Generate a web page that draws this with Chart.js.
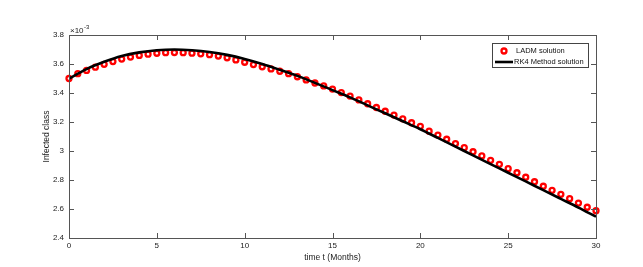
<!DOCTYPE html>
<html>
<head>
<meta charset="utf-8">
<script src="https://cdn.jsdelivr.net/npm/chart.js@4/dist/chart.umd.min.js"></script>
<style>
  html, body { margin: 0; padding: 0; background: #fff; }
  #wrap { width: 643px; height: 267px; }
</style>
</head>
<body>
<div id="wrap"><canvas id="chart" width="643" height="267"></canvas></div>
<script>
/* infected class, LADM vs RK4 */

const ladmT = [0, 0.5, 1, 1.5, 2, 2.5, 3, 3.5, 4, 4.5, 5, 5.5, 6, 6.5, 7, 7.5, 8, 8.5, 9, 9.5,
  10, 10.5, 11, 11.5, 12, 12.5, 13, 13.5, 14, 14.5, 15, 15.5, 16, 16.5, 17, 17.5, 18, 18.5, 19, 19.5,
  20, 20.5, 21, 21.5, 22, 22.5, 23, 23.5, 24, 24.5, 25, 25.5, 26, 26.5, 27, 27.5, 28, 28.5, 29, 29.5, 30];
const ladmValues = [3.500, 3.533, 3.556, 3.578, 3.598, 3.617, 3.634, 3.648, 3.659, 3.668,
  3.674, 3.678, 3.679, 3.678, 3.675, 3.670, 3.664, 3.655, 3.643, 3.628,
  3.612, 3.596, 3.581, 3.566, 3.550, 3.533, 3.512, 3.490, 3.469, 3.449,
  3.427, 3.403, 3.379, 3.352, 3.326, 3.300, 3.274, 3.248, 3.222, 3.195,
  3.170, 3.137, 3.110, 3.081, 3.051, 3.023, 2.995, 2.966, 2.936, 2.908,
  2.878, 2.850, 2.819, 2.788, 2.757, 2.729, 2.701, 2.671, 2.641, 2.612, 2.588];

const rk4T = [0, 1, 2, 3, 4, 5, 6, 7, 8, 9, 10, 11, 12, 13, 14, 15, 16, 17, 18, 19, 20,
  21, 22, 23, 24, 25, 26, 27, 28, 29, 30];
const rk4Values = [3.500, 3.565, 3.615, 3.655, 3.680, 3.695, 3.700, 3.695, 3.683, 3.663, 3.635,
  3.600, 3.560, 3.518, 3.470, 3.420, 3.370, 3.315, 3.260, 3.205, 3.150,
  3.090, 3.030, 2.970, 2.910, 2.850, 2.790, 2.730, 2.670, 2.610, 2.547];

const xTicks = [0, 5, 10, 15, 20, 25, 30];
const yTicks = [2.4, 2.6, 2.8, 3.0, 3.2, 3.4, 3.6, 3.8];
const legendLabels = ['LADM solution', 'RK4 Method solution'];

const FONT = "'Liberation Sans', Arial, sans-serif";
const AXIS = '#555555';

/* box + inward ticks, like the matlab axes */
const boxPlugin = {
  id: 'box',
  afterDatasetsDraw(chart) {
    const { ctx, chartArea: a, scales } = chart;
    ctx.save();
    ctx.strokeStyle = AXIS;
    ctx.lineWidth = 1;
    ctx.strokeRect(a.left + 0.5, a.top + 0.5, a.right - a.left, a.bottom - a.top);
    ctx.beginPath();
    xTicks.forEach(v => {
      const x = Math.round(scales.x.getPixelForValue(v)) + 0.5;
      ctx.moveTo(x, a.bottom); ctx.lineTo(x, a.bottom - 5);
      ctx.moveTo(x, a.top); ctx.lineTo(x, a.top + 5);
    });
    yTicks.forEach(v => {
      const y = Math.round(scales.y.getPixelForValue(v)) + 0.5;
      ctx.moveTo(a.left, y); ctx.lineTo(a.left + 5, y);
      ctx.moveTo(a.right, y); ctx.lineTo(a.right - 5, y);
    });
    ctx.stroke();

    /* exponent label */
    ctx.fillStyle = '#222';
    ctx.textBaseline = 'alphabetic';
    ctx.font = '8px ' + FONT;
    ctx.fillText('\u00d710', a.left + 1, a.top - 2);
    ctx.font = '6px ' + FONT;
    ctx.fillText('-3', a.left + 15, a.top - 6);

    /* legend */
    const lx = 492, ly = 43, lw = 96, lh = 24;
    ctx.fillStyle = '#fff';
    ctx.fillRect(lx, ly, lw, lh);
    ctx.strokeStyle = '#444';
    ctx.strokeRect(lx + 0.5, ly + 0.5, lw, lh);
    ctx.beginPath();
    ctx.arc(504, 51, 2.5, 0, Math.PI * 2);
    ctx.fillStyle = '#fff';
    ctx.fill();
    ctx.strokeStyle = '#ff0000';
    ctx.lineWidth = 2.3;
    ctx.stroke();
    ctx.beginPath();
    ctx.moveTo(495, 62); ctx.lineTo(513, 62);
    ctx.strokeStyle = '#000';
    ctx.lineWidth = 2.6;
    ctx.stroke();
    ctx.fillStyle = '#111';
    ctx.font = '7.5px ' + FONT;
    ctx.textBaseline = 'middle';
    ctx.fillText(legendLabels[0], 516, 51);
    ctx.fillText(legendLabels[1], 514, 62);
    ctx.restore();
  }
};

const ctx = document.getElementById('chart').getContext('2d');
new Chart(ctx, {
  type: 'scatter',
  data: {
    datasets: [
      {
        label: legendLabels[1],
        data: rk4T.map((t, i) => ({ x: t, y: rk4Values[i] })),
        showLine: true,
        borderColor: '#000',
        borderWidth: 2.6,
        pointRadius: 0,
        cubicInterpolationMode: 'monotone',
        order: 0,
      },
      {
        label: legendLabels[0],
        data: ladmT.map((t, i) => ({ x: t, y: ladmValues[i] })),
        showLine: false,
        clip: false,
        pointStyle: 'circle',
        pointRadius: 2.5,
        pointBorderWidth: 2.3,
        pointBorderColor: '#ff0000',
        pointBackgroundColor: '#ffffff',
        order: 1,
      }
    ]
  },
  options: {
    responsive: false,
    animation: false,
    events: [],
    layout: { padding: { left: 40, top: 35, right: 47, bottom: 0 } },
    plugins: { legend: { display: false }, tooltip: { enabled: false } },
    scales: {
      x: {
        type: 'linear',
        min: 0, max: 30,
        afterBuildTicks: s => { s.ticks = xTicks.map(v => ({ value: v })); },
        afterFit: s => { s.height = 29; },
        grid: { display: false, drawTicks: false },
        border: { display: false },
        ticks: { color: '#222', font: { size: 8, family: FONT }, padding: 3, maxRotation: 0 },
        title: { display: true, text: 'time t (Months)', color: '#222', font: { size: 8.5, family: FONT }, padding: { top: 0, bottom: 4 } },
      },
      y: {
        type: 'linear',
        min: 2.4, max: 3.8,
        afterBuildTicks: s => { s.ticks = yTicks.map(v => ({ value: v })); },
        afterFit: s => { s.width = 29; },
        grid: { display: false, drawTicks: false },
        border: { display: false },
        ticks: { color: '#222', font: { size: 8, family: FONT }, padding: 5,
          callback: v => (Math.abs(v - 3) < 1e-9 ? '3' : v.toFixed(1)) },
        title: { display: true, text: 'Infected class', color: '#222', font: { size: 8.5, family: FONT }, padding: { top: 2, bottom: 0 } },
      }
    }
  },
  plugins: [boxPlugin]
});
</script>
</body>
</html>
